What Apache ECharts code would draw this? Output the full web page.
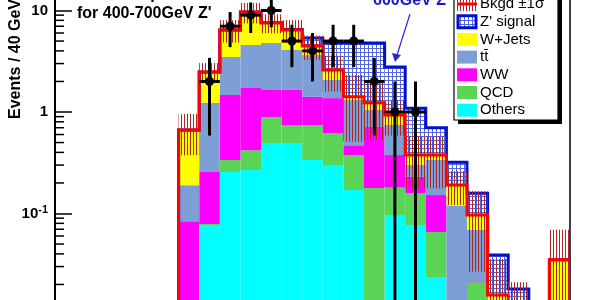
<!DOCTYPE html>
<html><head><meta charset="utf-8">
<script src="https://cdn.jsdelivr.net/npm/echarts@6/dist/echarts.min.js"></script>
<style>html,body{margin:0;padding:0;background:#fff;overflow:hidden}#c{width:600px;height:300px}</style>
</head><body><div id="c"></div>
<script>
// ---------------- data (events / 40 GeV) ----------------
const BIN_WIDTH = 40;
const binLow  = [240,280,320,360,400,440,480,520,560,600,640,680,720,760,800,840,880,920,960];
const others  = [0.006,0.077,0.256,0.268,0.495,0.495,0.337,0.30,0.17,0.01,0.0966,0.077,0.0237,0.005,0.008,0.002,0.001,0,0];
const qcd     = [0.004,0.002,0.081,0.152,0.395,0.25,0.408,0.32,0.207,0.168,0.083,0.082,0.042,0.003,0.013,0.002,0.001,0,0];
const ww      = [0.074,0.177,1.133,1.30,0.76,0.905,0.665,0.75,0.093,0.532,0.197,0.071,0.0863,0.002,0.0005,0.001,0.001,0,0];
const ttbar   = [0.106,0.974,2.01,2.85,3.13,2.43,2.23,0.70,0.84,0.34,0.368,0.07,0.185,0.11,0.0475,0.003,0.003,0,0];
const wjets   = [0.475,1.25,2.95,5.10,2.78,2.35,0.82,0.52,0.10,0.18,0.19,0.077,0.04,0.071,0.0276,0.0077,0.005,0,0.035];
const zprime  = [0,0,0,0,0,0.07,0.90,2.19,3.37,3.55,1.835,0.713,0.323,0.129,0.062,0.0233,0.007,0,0];
const bkgSigma= [0.29,0.56,1.6,2.2,1.6,1.6,1.2,1.0,0.9,0.7,0.35,0.2,0.2,0.07,0.07,0.02,0.01,0,0.034];
const dataCounts = [0,2,7,9,10,5,4,5,5,2,1,1,0,0,0,0,0,0,0];
const yTicks = [0.01,0.1,1,10,100];
const legendLabels = ['Bkgd \u00b11\u03c3', "Z' signal", 'W+Jets', 'tt\u0304', 'WW', 'QCD', 'Others'];

// ---------------- styles ----------------
const C = {others:'#00ffff', qcd:'#59d454', ww:'#ff00ff', tt:'#7e9ed6', wjets:'#ffff00',
           red:'#ff0000', blue:'#0010d0', hatch:'#b02424'};
const Y_MIN = 0.01, Y_MAX = 100, FLOOR = 1e-5;
const FONT = '"Liberation Sans", Arial, sans-serif';

function makeTile(w, h, draw) {
  const c = document.createElement('canvas'); c.width = w; c.height = h;
  draw(c.getContext('2d')); return {image: c, repeat: 'repeat'};
}
const hatchPattern = makeTile(3, 4, g => { g.fillStyle = C.hatch; g.fillRect(1, 0, 1, 4); });
const sigPattern = makeTile(4, 4, g => {
  g.fillStyle = '#ffffff'; g.fillRect(0,0,4,4);
  g.fillStyle = '#5566dd'; g.fillRect(0,0,4,1); g.fillRect(0,0,1,4);
});

// ---------------- stacking ----------------
const layers = [others, qcd, ww, ttbar, wjets, zprime];
const cum = []; let run = binLow.map(() => 0);
layers.forEach(arr => { const lo = run; const hi = run.map((v, i) => v + arr[i]); cum.push({lo, hi}); run = hi; });
const totalBkg = cum[4].hi, totalSig = cum[5].hi;

function rectBetween(api, x, lo, hi) {
  const a = api.coord([x, hi]);
  const b = api.coord([x + BIN_WIDTH, Math.max(lo, FLOOR)]);
  return {x: a[0], y: a[1], width: b[0] - a[0], height: b[1] - a[1]};
}
function stackSeries(k, fill, z) {
  const data = [];
  binLow.forEach((x, i) => { if (cum[k].hi[i] > cum[k].lo[i]) data.push([x, cum[k].hi[i], cum[k].lo[i]]); });
  return {type: 'custom', coordinateSystem: 'cartesian2d', clip: true, z, data, encode: {x: 0, y: 1},
    renderItem(p, api) {
      return {type: 'rect', shape: rectBetween(api, api.value(0), api.value(2), api.value(1)), style: {fill}};
    }};
}
function outlineSeries(tot, color, z) {
  return {type: 'custom', coordinateSystem: 'cartesian2d', clip: true, z, data: [[binLow[0], 1]], encode: {x: 0, y: 1},
    renderItem(p, api) {
      const pts = [api.coord([binLow[0], FLOOR])];
      binLow.forEach((x, i) => {
        const v = tot[i] > 0 ? tot[i] : FLOOR;
        pts.push(api.coord([x, v]), api.coord([x + BIN_WIDTH, v]));
      });
      pts.push(api.coord([binLow[binLow.length - 1] + BIN_WIDTH, FLOOR]));
      return {type: 'polyline', shape: {points: pts}, style: {stroke: color, lineWidth: 3, fill: null, lineJoin: 'miter'}};
    }};
}
const bandData = [];
binLow.forEach((x, i) => { if (bkgSigma[i] > 0) bandData.push([x, totalBkg[i] + bkgSigma[i], totalBkg[i] - bkgSigma[i]]); });
const sigData = [];
binLow.forEach((x, i) => { if (zprime[i] > 0) sigData.push([x, totalSig[i], totalBkg[i]]); });
const dataPts = [];
binLow.forEach((x, i) => { if (dataCounts[i] > 0) dataPts.push([x + BIN_WIDTH / 2, dataCounts[i]]); });
const minorTicks = [];
yTicks.forEach(d => { for (let m = 2; m <= 9; m++) minorTicks.push([0, d * m]); });

const series = [
  stackSeries(0, C.others, 2), stackSeries(1, C.qcd, 2), stackSeries(2, C.ww, 2),
  stackSeries(3, C.tt, 2), stackSeries(4, C.wjets, 2),
  {type: 'custom', coordinateSystem: 'cartesian2d', clip: true, z: 3, data: sigData, encode: {x: 0, y: 1},
    renderItem(p, api) { return {type: 'rect', shape: rectBetween(api, api.value(0), api.value(2), api.value(1)), style: {fill: sigPattern}}; }},
  outlineSeries(totalSig, C.blue, 4),
  {type: 'custom', coordinateSystem: 'cartesian2d', clip: true, z: 5, data: bandData, encode: {x: 0, y: 1},
    renderItem(p, api) { return {type: 'rect', shape: rectBetween(api, api.value(0), api.value(2), api.value(1)), style: {fill: hatchPattern}}; }},
  outlineSeries(totalBkg, C.red, 6),
  {type: 'custom', coordinateSystem: 'cartesian2d', clip: true, z: 7, data: dataPts, encode: {x: 0, y: 1},
    renderItem(p, api) {
      const xc = api.value(0), n = api.value(1), e = Math.sqrt(n);
      const c = api.coord([xc, n]);
      const t = api.coord([xc, n + e]), b = api.coord([xc, Math.max(n - e, FLOOR)]);
      const l = api.coord([xc - BIN_WIDTH / 2, n]), r = api.coord([xc + BIN_WIDTH / 2, n]);
      const st = {stroke: '#000', lineWidth: 3};
      return {type: 'group', children: [
        {type: 'line', shape: {x1: t[0], y1: t[1], x2: b[0], y2: b[1]}, style: st},
        {type: 'line', shape: {x1: l[0], y1: l[1], x2: r[0], y2: r[1]}, style: st},
        {type: 'circle', shape: {cx: c[0], cy: c[1], r: 4.5}, style: {fill: '#000'}}
      ]};
    }},
  {type: 'custom', coordinateSystem: 'cartesian2d', clip: false, z: 8, data: minorTicks, encode: {x: 0, y: 1},
    renderItem(p, api) {
      const q = api.coord([api.value(0), api.value(1)]);
      return {type: 'line', shape: {x1: q[0], y1: q[1], x2: q[0] + 9, y2: q[1]}, style: {stroke: '#000', lineWidth: 1.5}};
    }}
];

// ---------------- legend (graphic) ----------------
const legX = 454, legW = 104, legTop = -40, legBottom = 120;
const rowY0 = 4, rowDY = 17.7;
const swatchFills = [null, null, C.wjets, C.tt, C.ww, C.qcd, C.others];
const legendEls = [
  {type: 'rect', shape: {x: legX + 4, y: legTop + 4, width: legW, height: legBottom - legTop}, style: {fill: '#000'}, z: 100},
  {type: 'rect', shape: {x: legX, y: legTop, width: legW, height: legBottom - legTop}, style: {fill: '#fff', stroke: '#000', lineWidth: 1.2}, z: 101}
];
legendLabels.forEach((lab, k) => {
  const cy = rowY0 + rowDY * k;
  const sx = 457, sw = 20, sh = 13;
  if (k === 0) {
    legendEls.push({type: 'rect', shape: {x: sx, y: cy - 7, width: sw, height: 14}, style: {fill: hatchPattern}, z: 102});
    legendEls.push({type: 'line', shape: {x1: sx, y1: cy, x2: sx + sw, y2: cy}, style: {stroke: C.red, lineWidth: 3}, z: 103});
  } else if (k === 1) {
    legendEls.push({type: 'rect', shape: {x: sx + 1, y: cy - 6, width: sw - 2, height: 12}, style: {fill: sigPattern, stroke: C.blue, lineWidth: 3}, z: 102});
  } else {
    legendEls.push({type: 'rect', shape: {x: sx, y: cy - sh / 2, width: sw, height: sh}, style: {fill: swatchFills[k]}, z: 102});
  }
  legendEls.push({type: 'text', x: 480, y: cy, style: {text: lab, font: '15px ' + FONT, fill: '#000', verticalAlign: 'middle'}, z: 103});
});

const graphic = legendEls.concat([
  {type: 'text', x: 16, y: 59, rotation: Math.PI / 2, style: {text: 'Events / 40 GeV', font: 'bold 16px ' + FONT, fill: '#000', align: 'center', verticalAlign: 'middle'}, z: 50},
  {type: 'text', x: 77, y: -5, style: {text: "Z' mass optimized", font: 'bold 16px ' + FONT, fill: '#000', verticalAlign: 'middle'}, z: 1},
  {type: 'text', x: 77, y: 14, style: {text: "for 400-700GeV Z'", font: 'bold 16px ' + FONT, fill: '#000', verticalAlign: 'middle'}, z: 1},
  {type: 'text', x: 373, y: 1, style: {text: "600GeV Z'", font: 'bold 16px ' + FONT, fill: '#1a1acc', verticalAlign: 'middle'}, z: 60},
  {type: 'line', shape: {x1: 410, y1: 14, x2: 397, y2: 55}, style: {stroke: '#2a2acc', lineWidth: 1.2}, z: 60},
  {type: 'polygon', shape: {points: [[395, 62], [392, 53], [401, 55]]}, style: {fill: '#2a2acc'}, z: 60}
]);

const chart = echarts.init(document.getElementById('c'), null, {renderer: 'canvas'});
chart.setOption({
  animation: false,
  backgroundColor: '#fff',
  grid: {left: 55, right: 30, top: -91, bottom: -15, containLabel: false, outerBoundsMode: 'none',
         show: true, borderColor: '#000', borderWidth: 1.5, backgroundColor: 'transparent'},
  xAxis: {type: 'value', min: 0, max: 1000, axisLine: {show: false}, axisTick: {show: false},
          axisLabel: {show: false}, splitLine: {show: false}},
  yAxis: {type: 'log', logBase: 10, min: Y_MIN, max: Y_MAX,
          axisLine: {show: true, lineStyle: {color: '#000', width: 2}},
          axisTick: {show: true, inside: true, length: 17, lineStyle: {color: '#000', width: 1.5}},
          splitLine: {show: false}, minorTick: {show: false},
          axisLabel: {margin: 7, color: '#000', fontFamily: FONT, fontSize: 15, fontWeight: 'bold',
            formatter: v => {
              const e = Math.round(Math.log10(v));
              if (e === 0) return '1';
              if (e === 1) return '10';
              return '{a|10}{b|' + e + '}';
            },
            rich: {a: {fontFamily: FONT, fontSize: 15, fontWeight: 'bold', color: '#000'},
                   b: {fontFamily: FONT, fontSize: 11, fontWeight: 'bold', color: '#000', verticalAlign: 'top', padding: [0, 0, 8, 0]}}}},
  series,
  graphic
});
</script></body></html>
